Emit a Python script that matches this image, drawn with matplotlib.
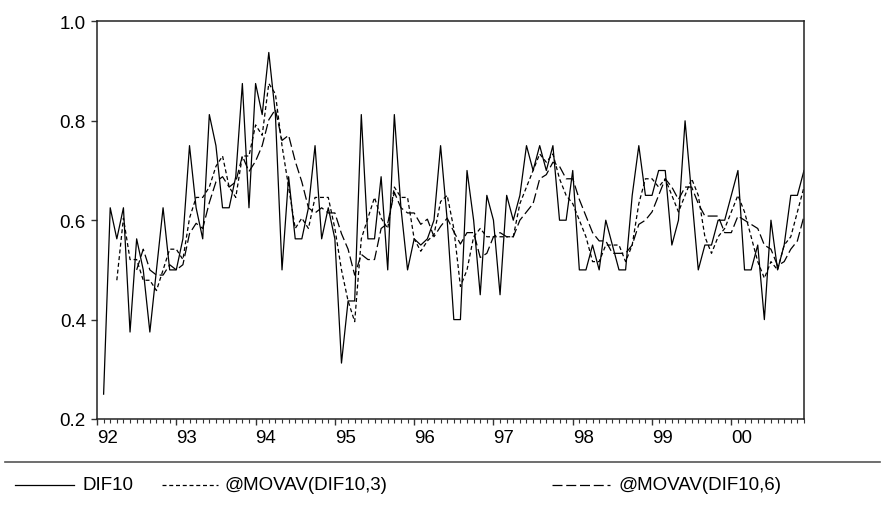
import numpy as np
import pandas as pd
import matplotlib
matplotlib.use("Agg")
import matplotlib.pyplot as plt
from matplotlib.lines import Line2D

plt.rcParams['font.family'] = ['Liberation Sans', 'DejaVu Sans']

# monthly observations, 1992:02 - 2000:12
dates = pd.period_range('1992-02', '2000-12', freq='M')
dif10 = [
    0.25, 0.625, 0.5625, 0.625, 0.375, 0.5625, 0.5, 0.375, 0.5, 0.625, 0.5,
    0.5, 0.5625, 0.75, 0.625, 0.5625, 0.8125, 0.75, 0.625, 0.625, 0.6875,
    0.875, 0.625, 0.875, 0.8125, 0.9375, 0.8125, 0.5, 0.6875, 0.5625, 0.5625,
    0.625, 0.75, 0.5625, 0.625, 0.5625, 0.3125, 0.4375, 0.4375, 0.8125,
    0.5625, 0.5625, 0.6875, 0.5, 0.8125, 0.625, 0.5, 0.5625, 0.55, 0.5625,
    0.6, 0.75, 0.6, 0.4, 0.4, 0.7, 0.6, 0.45, 0.65, 0.6, 0.45, 0.65, 0.6,
    0.65, 0.75, 0.7, 0.75, 0.7, 0.75, 0.6, 0.6, 0.7, 0.5, 0.5, 0.55, 0.5,
    0.6, 0.55, 0.5, 0.5, 0.65, 0.75, 0.65, 0.65, 0.7, 0.7, 0.55, 0.6, 0.8,
    0.65, 0.5, 0.55, 0.55, 0.6, 0.6, 0.65, 0.7, 0.5, 0.5, 0.55, 0.4, 0.6,
    0.5, 0.55, 0.65, 0.65, 0.7,
]
years = list(range(1992, 2001))
year_labels = [f"{y % 100:02d}" for y in years]
y_ticks = [0.2, 0.4, 0.6, 0.8, 1.0]

labels = ["DIF10", "@MOVAV(DIF10,3)", "@MOVAV(DIF10,6)"]

s = pd.Series(dif10)
ma3 = s.rolling(3).mean()   # EViews @MOVAV is a trailing average
ma6 = s.rolling(6).mean()

# x in months, Jan 1992 = 0
t = (dates.year - 1992) * 12 + dates.month - 1

W, H = 885, 506
fig = plt.figure(figsize=(W / 100, H / 100), dpi=100)
ax = fig.add_axes([97 / W, 1 - 420 / H, (804 - 97) / W, (420 - 22.4) / H])

styles = [
    dict(color='black', lw=0.9, linestyle='-'),
    dict(color='black', lw=0.9, dashes=(3.2, 2.2)),
    dict(color='black', lw=0.9, dashes=(8, 3)),
]
for series, st in zip([s, ma3, ma6], styles):
    ax.plot(t, series.values, **st)

ax.set_xlim(0, 107)
ax.set_ylim(0.2, 1.0)
ax.set_xticks([(y - 1992) * 12 for y in years])
ax.set_xticklabels(year_labels, ha='left')
ax.set_xticks(np.arange(0, 108), minor=True)
ax.set_yticks(y_ticks)
ax.set_yticklabels([f"{v:.1f}" for v in y_ticks])

ax.tick_params(axis='both', which='major', direction='out', length=4.5,
               width=1.0, labelsize=13.5, color='#333333')
ax.tick_params(axis='x', which='minor', direction='out', length=3,
               width=0.8, color='#333333')
ax.tick_params(axis='x', which='major', pad=3)
for sp in ax.spines.values():
    sp.set_linewidth(1.1)
    sp.set_color('#222222')

# legend area under the plot
fig.add_artist(Line2D([5 / W, 880 / W], [1 - 463 / H] * 2,
                      transform=fig.transFigure, color='#555555', lw=1.2))
leg_y = 1 - 486 / H
leg_x = [(15, 74, 83), (162, 218, 225), (552, 610, 618)]
for (x0, x1, xt), lab, st in zip(leg_x, labels, styles):
    fig.add_artist(Line2D([x0 / W, x1 / W], [leg_y, leg_y],
                          transform=fig.transFigure, **st))
    fig.text(xt / W, leg_y, lab, fontsize=13.5, va='center', ha='left')

fig.savefig("out.png", dpi=100)
